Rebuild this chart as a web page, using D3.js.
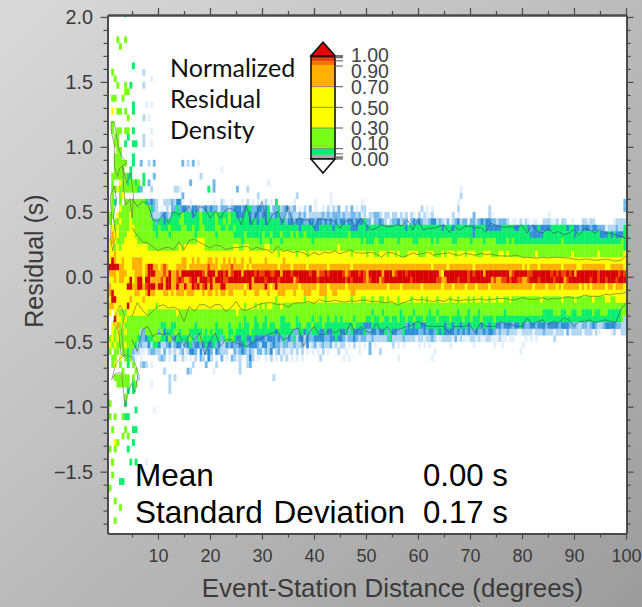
<!DOCTYPE html>
<html><head><meta charset="utf-8">
<style>html,body{margin:0;padding:0;background:#b8b8b8}svg{display:block}text{font-family:"Liberation Sans",Arial,sans-serif}</style>
<script src="https://cdn.jsdelivr.net/npm/d3@7"></script></head><body>
<div id="c"></div>
<script>
const xTicksMajor=[10,20,30,40,50,60,70,80,90,100];
const xTicksMinor=[5,15,25,35,45,55,65,75,85,95];
const yTicksMajor=[-1.5,-1,-0.5,0,0.5,1,1.5,2];
const yTicksMinor=[-1.9,-1.8,-1.7,-1.6,-1.4,-1.3,-1.2,-1.1,-0.9,-0.8,-0.7,-0.6,-0.4,-0.3,-0.2,-0.1,0.1,0.2,0.3,0.4,0.6,0.7,0.8,0.9,1.1,1.2,1.3,1.4,1.6,1.7,1.8,1.9];
const levelKeys=["a","b","c","d","e","f","y","o","p","r"];
const levelValues=[0.005,0.015,0.025,0.04,0.07,0.2,0.5,0.8,0.93,0.99];
const levelBreaks=[0.01,0.02,0.03,0.05,0.1,0.3,0.7,0.91,0.975];
const levelColors=["#e4f0fb","#b4d8f2","#70b8ea","#2f8fd8","#08ee6c","#78ff18","#ffff00","#ffb000","#ee4400","#d80000"];
const barBandEdges=[0,0.04,0.1,0.3,0.7,0.91,0.95,0.975,1];
const barBandColors=["#a9a9b4","#08ee6c","#78ff18","#ffff00","#ffb000","#ff7400","#f03000","#d80000"];
const barTicks=[1,0.99,0.98,0.95,0.9,0.7,0.5,0.3,0.1,0.05,0.02,0.01,0];
const barLabels=[1,0.9,0.7,0.5,0.3,0.1,0];
const legendTitle=["Normalized","Residual","Density"];
const statNames=["Mean","Standard Deviation"];
const statValues=["0.00 s","0.17 s"];
const rowTops=[0.6,0.55,0.5,0.45,0.4,0.35,0.3,0.25,0.2,0.15,0.1,0.05,0,-0.05,-0.1,-0.15,-0.2,-0.25,-0.3,-0.35,-0.4,-0.45,-0.5,-0.55,-0.6];
// one string per 0.05 s bin, one character per 0.5 degree bin, blocks of 5 degrees
const densityRows=[
"..fe.f.fff fffffecdcb ..bbbcbdda ..a....... .a..ba..a. ..a.b.a.a. ab.a.e.... ..a....... a.....a... ........a. .......... .......... .......... .....a.... .......... .......... .......... .......... .......... ..........",
"..f..yffff fffffffecb .a.b.ccecd dcbddcbcdc dccacccbcd ddcdeeccdd cdeaccebcd bbc.a.b.c. a..a.b.bac ..b.c.a.bb .......... .......... .b.a.a.... .....b.... .......b.. .......... .......... .......... .......... ..........",
".ff.yffffy fffffffcbb bcdcbeeeef eeedeefeee eefeeeefee dddeedcddc ddeccdeccb ccbbcbcabb bbbcbcbccc bcbbccbcab .bbccb.bb. bb.bab.ba. b.baab.... ...b.a.... .c.....ba. .......... .......... a......... .......... ..........",
".f.ffyfffy ffffffffec eedeeeeeff eeeeeefeee eefeefefee eeeeedeede edeeeeedec ddcdddccdd cddcdcdcdc ddcddcddde ccaccdcb.b ccdbcc.cdc dcbbcddbcb acabcdbcca ccbcdcddcc bcccb.aa.b .ba.aa..bb baab.bb..a ...bbabb.. .....abbbb",
"..yfyffffy yfffffffee feeefeeeef feefeeffee eeffeefeef eeeeeeeeee eeeeeeeeee eeeedeeeee ddeeeeedee eeeedddeee deeeeeeeee eeeeedeeee eeeeeeeeed eeedeeeeee edeeeedddd ddeeeeedde eedcddeddd deeeeeedee ddcdddcddc ccabbbcbbe",
"..oyyfffyy yffffffffe ffffefffff ffffefffff ffeffffffe eeefeeeeee feefeeefee efefeefeee eeeeeeeeee eeefeeeeee eeeeeeeeee eeeeeeeeee eeeeeeeeee eeeeeeeeee edeeeeeeee eeeeeeeeee eeedddddee eeeeeeeeee deeeeeeeee dddededdde",
".yoyfffyyy yyffffffff ffffffffff fffffyyyff ffffffffff ffeffffffe fffefffeff fffffffffe ffffffffff ffffffffef eeeffeefff ffefffffee fffffefeff fffeefffff effffeffff eeeefefeee eeeeeeeeee eeeeefeeee eeeeeeeeee eeeeeeeefe",
".yyfyfyyyy yyyyyyffff ffffffffyf yyyyyyyyff fffffffffy yffyyfffff fyyfffffff ffffffffff fffffffffy ffffffffff ffffffffff ffffffffff ffffffffff ffffffffff ffffffffff ffffffffff ffffffffff ffffffffff ffffffffff fffffffffe",
".yyoyyyyyy yyyyyyyyyy yyyyyyyyyy yyyyyyyyyy yyyyyyyyyy yyyyyyyyyy yyyyyyfyyy yyyfyyyfyy yyyyyyyyyy yyyyfyyyyy fyyffyyyfy yfyfffyyyy fffyyyfffy fyyyfyyyfy yyfffyyyff fyyfyfffff fffffyffff fffffffffy fffffffffy fffffffffy",
".yroyyoyyy ooooyyyyyy yyyyyyyyyo oyyoyoyyyo oyoyyoyoyo yyoyyoyyyy yoyyyyyyoy yyyyyyyyyy yyyyyyyyyy yyyyyyyyyy yyyyyyyyyy yyyyyyyyyy yyyyyyyyyy yyyyyyyyyy yyyyyyyyyy yyyyyyyyyy yyyyyyyyyy yyyyyyyyyy yyyyyyyyyy yyyyyyyyyy",
".rrrrooyyy ooooyorroo yopoyyyooo oyooooooop oooyoooopo oooyoyoooo ooooooyooo oyoooooyoo oooooyoooo ooooyooooo oooooooooo oooooooooo oooooyoooo oyoooooooo oyoooooooo oooooooooo yoyoooyooo oooooyoooo oyyooooooo ooyyoooooy",
".oooyoooyy yoooyorrro ooporoopor rrrrrrrpor rrorrpropr rrorrrrprp prrpprrorr rprrrrrrpr ropprprrrr rpoprrrprp orrrrrorrr oprrrprrrr rrrrrrrroy rrrrrrrrrp rprrrorrrr rrrrroprrr rrpprrrrrr rprprpprpr orrrrrrrrp rrrrrrrprp",
".yyoyooyyr yorryrrooo oporrooprp ooprrorrrp rorrrpprrr rrrrrrorrr rprrrrprrr rroprrrrrr rprrrrrrrr rrprprrrrp oprrroprrr rrrrrrrprr rrrrrrrppo orrrrprrrp rrrrrrrrop oopprprrpp ooprrrprrr rrprrroprr rrrrrrprrp rrprrrprrr",
".oyyyyyyrr oorroprrro rrorrooroo roorpropro rooorroooo oooyoroooo oroyoroooo ooooyooooo oyoooyoooo ooyooooooo ooooooooyo oooyoooooo oyoooooooy oooyooooyo ooyooooyoo oooooooooo ooooyooooy oooyoyoooo ooyoyoyooo ooyooyoooy",
".oryyyyyyy yooyyorooy yyooyoyooo yoooyyyoyo oyoyooyooy yyyoyyyooy yyoyyyoooy yyoyyyoooy yyoooyyooy yyyyooyyyy yyyyyyyyyy yyyyyyyyyy yyyyyyyyyy yyyyyyyyyy yyyyyyyyyy yyyyyyyyyy yyyyyyyyyy yyyyyyyyyy yyyyyyyyyy yyyyyyyyyy",
".yrryyyyyo yyyyoyyyyy yyyyyyyyyy yyyyyyyyyy yyyyyyyyyy yyyyyyyyyy yyyyyfyyyy yyyyyyfyyy yyyyfyyyyy yyyyfyyyff yyfyyffyfy yyfyyyyfyy yfyfyyyfyy yyfyyfyyyf yfyyfyyfyy fyyffyffff fffffffyff fffffyffff yffffffyff ffyyffyyyy",
".ooyyyyyry yyyyyyyyyf yyyyyyyyyy yyyyyyyyyy yyyyyyyyyy yyyfyyyfyf yfyyfffyff ffffffffff ffffffffff ffffffffff ffffffffff ffffffffff ffffffffff ffffffffff ffffffffff ffffffffff ffffffffff ffffffffff ffffffffff ffffffffff",
".y.yyfffyy yyyyyyffff fffffffyff ffffffffff ffffffffff yfffffffff ffffffffff ffffffffff ffffffffff ffffffffff ffefffefff fffeffffef ffffeffeff fffffefffe fffeffffff fffeffffff ffffffffee eefffeeffe effeeeefee fffeeeeeff",
"...ryyfyff ffffffffff ffffffffff ffffffffff ffffffffff fffefffeff fefffffeef fffefffffe ffeffeffef effffeffff eefeeffeef eefeefeefe eefeeeefee eefeeeefee feeefeeeef eeeeeeeeee eeeeeeeeee eeeeeeeeee eeeeeeeeee eeeeeeeefb",
"..yyofyfff ffffffffff feeffeefff ffffefffff ffeffffeff fefeeffeef eefeeffeee effeeffeef eeefeeeeee eeeeefeeed ddeeeeeeee eeeeecdede eddeeeeeee deedeedeed eeeedeedee ddcdddcdde dccddcdddc ddddcdddcc cbbccbcdcb bcddddccbb",
"o.yfyffyff fffbcfffff cfdeeeffef ffeeeeefef efeeeffeef eeeeefeeee eeeeedeeee eecceedece eeddeddeee ddecedddde ccddcddece ddcceddddd ccdcddcede ddddcdcdcd ccdccdcddc bcbbcbbbaa bbbbabbbcb bbabbb.cab bbb.bbb.ba ....ab..bb",
".fyfyfffff ffeccdeeff feedfcdeee eefecefeee eeeecefefe ddeeddeddd dcdddcdcec dcebddbdcc ddddccdded dcbccdcbcc bbcbbbbbce bbbbcbbbba bbabbcbaab bbbacabaaa bbabaabbaa abaa.aa... .a.a.a.... ..b....... .......... ..........",
".yfyfffyff febcbbdbee dbbcdbcddb cdecddcded decdbbdcdc cddecdddcb ddbcdccbcc bbcbbcadab cabcbbcaba bb.a.b.a.a .c.a...... b.a.a..... ..a.a..... ..a....... .a.......a .......... .......... .......... .......... ..........",
".f.ff.ffef cbbaa.bccb b.c.bab.bc abddc.dbcd c.dcbbb..c bcdcbcb.cc acbd.bcaba ab.b.b.a.a .a.b.a...b ..a....a.. .c...b.... .......... .......... .......... .......... .......... .......... .......... .......... ..........",
"..ff.y.fef ba.a...... b.b.a.ca.b a.a.b.cb.d b.a.c.a.cb aba.bdb.a. .a.b.a.b.b .a.a.a.... ..b....... .a.a...... .......... ..a....... .......... .......... .......... .......... .......... .......... .......... .........."
];
// isolated bins outside the main band: distance, residual, level key
const sparseCells=[[3.8,2.0,"e"],[2.2,1.82,"f"],[2.7,1.76,"f"],[3.8,1.82,"f"],[5.2,1.62,"e"],[1.3,1.57,"f"],[1.7,1.52,"f"],[2.3,1.46,"f"],[3.8,1.46,"f"],[4.6,1.47,"e"],[3.5,1.41,"f"],[4,1.41,"f"],[1.2,1.37,"f"],[1.7,1.37,"f"],[3.2,1.37,"f"],[5.2,1.31,"e"],[5.2,1.26,"e"],[1.3,1.27,"y"],[2.3,1.27,"f"],[2.7,1.27,"f"],[3.8,1.27,"f"],[4.2,1.21,"f"],[2.3,1.15,"f"],[3.7,1.15,"f"],[5.2,1.15,"e"],[2.7,1.1,"f"],[4.2,1.1,"f"],[4.4,1.05,"e"],[3.8,1,"e"],[5.1,1,"e"],[5.7,1,"e"],[5.2,0.92,"e"],[5,0.87,"e"],[1.2,1.17,"f"],[1.2,1.12,"f"],[1.7,1.07,"f"],[1.7,1.02,"f"],[2.2,1.07,"f"],[2.2,1.02,"f"],[2.2,0.97,"f"],[2.7,0.97,"f"],[1.7,0.92,"f"],[2.2,0.92,"f"],[2.7,0.92,"f"],[1.7,0.87,"f"],[2.2,0.87,"f"],[2.7,0.87,"f"],[3.2,0.87,"f"],[3.7,0.87,"f"],[2.2,0.82,"f"],[2.7,0.82,"f"],[1,0.72,"f"],[2.2,0.76,"f"],[4.2,0.77,"e"],[4.7,0.77,"e"],[4.2,0.72,"e"],[4.7,0.72,"f"],[3.7,0.67,"f"],[4.2,0.67,"f"],[4.7,0.67,"f"],[2.2,0.67,"y"],[1.7,0.67,"f"],[2.7,0.72,"y"],[5.7,0.72,"e"],[6.2,0.72,"f"],[5.7,0.67,"f"],[6.2,0.67,"e"],[6.7,0.67,"c"],[7.2,0.77,"e"],[7.2,0.72,"e"],[8.2,0.72,"c"],[8.7,0.67,"b"],[9,0.77,"c"],[18,0.77,"b"],[22.2,0.82,"a"],[16,0.72,"c"],[13.2,0.67,"b"],[13.7,0.67,"b"],[14.2,0.67,"a"],[14.5,0.62,"c"],[19.5,0.67,"e"],[20.6,0.72,"c"],[20.6,0.67,"c"],[16.7,0.87,"c"],[7.2,1.57,"b"],[7.2,1.47,"b"],[8.7,1.52,"a"],[7.7,1.32,"a"],[8.7,1.32,"a"],[7.2,1.22,"b"],[8.2,1.22,"a"],[8.7,1.15,"a"],[7.2,1.08,"b"],[7.2,1.03,"b"],[8.7,1.02,"a"],[6.7,0.87,"c"],[8.2,0.87,"b"],[9,0.87,"c"],[14.7,0.87,"c"],[15.7,0.87,"b"],[17.7,0.87,"a"],[31.2,0.72,"a"],[27.4,0.67,"b"],[25.4,0.67,"c"],[29.3,0.62,"b"],[36.7,0.62,"b"],[43,0.62,"a"],[68,0.62,"b"],[68,0.67,"a"],[99.6,0.52,"c"],[99.6,0.57,"c"],
[1.2,0.77,"f"],[1.7,0.77,"f"],[2.7,0.77,"f"],[3.2,0.77,"f"],[3.7,0.77,"f"],[3.2,0.72,"f"],[3.7,0.72,"f"],[5.2,0.72,"f"],[1.2,0.67,"f"],[2.7,0.67,"f"],[3.2,0.67,"f"],[5.2,0.67,"f"],[1.2,0.62,"f"],[2.7,0.62,"f"],[3.2,0.62,"y"],[1.7,0.82,"f"],[3.2,0.82,"f"],[4.7,0.82,"e"],
[1.7,-0.68,"y"],[6.5,-0.67,"b"],[7.2,-0.67,"c"],[7.8,-0.68,"b"],[8.5,-0.67,"a"],[11.3,-0.73,"b"],[8.5,-0.83,"a"],[12.3,-0.8,"b"],[12.3,-0.85,"b"],[12.3,-0.9,"b"],[13.1,-0.78,"b"],[9.4,-1.03,"a"],[4.3,-0.69,"e"],[6.2,-0.78,"b"],[1.5,-0.77,"f"],[2,-0.77,"f"],[2.5,-0.77,"f"],[3,-0.77,"f"],[3.5,-0.77,"f"],[4,-0.77,"f"],[5,-0.77,"f"],[2,-0.82,"f"],[2.5,-0.82,"f"],[3,-0.82,"f"],[3.5,-0.82,"f"],[4,-0.82,"f"],[5,-0.82,"e"],[5.5,-0.82,"f"],[3.6,-0.92,"f"],[3.6,-0.97,"e"],[4.1,-0.87,"e"],[5.2,-0.87,"e"],[1,-0.7,"f"],[2.5,-0.7,"f"],[3,-0.72,"f"],[5,-0.7,"f"],[5.6,-0.72,"f"],[0.8,-0.98,"f"],[5.6,-1.03,"e"],[0.8,-1.07,"f"],[1.7,-1.07,"f"],[3.1,-1.07,"f"],[3.6,-1.07,"e"],[4.2,-1.07,"e"],[1.2,-1.18,"f"],[3.7,-1.18,"f"],[4.2,-1.23,"f"],[5,-1.18,"e"],[5.5,-1.18,"e"],[1.7,-1.28,"y"],[2.4,-1.28,"f"],[3.3,-1.23,"f"],[5.2,-1.28,"e"],[0.8,-1.33,"f"],[1.7,-1.33,"f"],[4.4,-1.33,"e"],[1,-1.42,"f"],[1.4,-1.42,"f"],[4.9,-1.42,"e"],[5.7,-1.42,"e"],[1.2,-1.53,"f"],[2.5,-1.58,"e"],[3,-1.58,"e"],[0.8,-1.62,"f"],[1.9,-1.73,"f"],[2.9,-1.77,"f"],[1.8,-1.88,"f"],[7.7,-1.43,"a"],
[10.8,-0.62,"c"],[11,-0.73,"b"],[15.5,-0.73,"c"],[16,-0.73,"b"],[20.6,-0.73,"a"],[16.5,-0.68,"b"],[19,-0.68,"c"],[21,-0.68,"b"],[32.2,-0.78,"b"],[25.5,-0.73,"b"],[27,-0.68,"b"],[27.5,-0.68,"c"],[25.5,-0.68,"b"],[60.1,-0.52,"a"],[62.5,-0.62,"a"],[63,-0.58,"a"],[80,-0.52,"a"],[79.5,-0.57,"a"],[76,-0.52,"a"],[76,-0.47,"a"]];
const contourDistance=d3.range(5,101);
const yellowTop=[.38,.32,.27,.26,.233,.2,.22,.228,.208,.27,.208,.28,.29,.264,.246,.22,.246,.238,.21,.22,.226,.228,.238,.208,.228,.213,.208,.182,.238,.195,.203,.187,.195,.182,.162,.187,.169,.19,.182,.2,.177,.192,.208,.187,.182,.182,.19,.175,.15,.185,.185,.17,.15,.165,.185,.17,.18,.19,.165,.175,.18,.185,.17,.165,.18,.175,.165,.18,.17,.175,.165,.16,.16,.16,.169,.15,.15,.146,.144,.15,.144,.15,.15,.146,.144,.136,.13,.136,.136,.126,.13,.136,.13,.12,.126,.16];
const yellowBottom=[-.305,-.2,-.254,-.3,-.267,-.228,-.215,-.241,-.233,-.254,-.344,-.228,-.267,-.215,-.215,-.241,-.215,-.215,-.267,-.241,-.19,-.25,-.26,-.24,-.22,-.205,-.2,-.2,-.215,-.21,-.235,-.205,-.2,-.2,-.19,-.205,-.175,-.19,-.19,-.18,-.19,-.195,-.185,-.19,-.18,-.18,-.19,-.19,-.195,-.2,-.19,-.22,-.2,-.19,-.17,-.18,-.175,-.185,-.19,-.18,-.19,-.17,-.18,-.185,-.175,-.18,-.175,-.17,-.18,-.175,-.17,-.165,-.17,-.18,-.175,-.16,-.17,-.175,-.17,-.16,-.175,-.165,-.17,-.16,-.155,-.165,-.16,-.14,-.15,-.15,-.15,-.135,-.14,-.13,-.13,-.12];
const greenTop=[.6,.541,.579,.567,.438,.426,.477,.413,.503,.477,.503,.541,.464,.541,.528,.451,.503,.451,.515,.528,.503,.4,.554,.4,.49,.579,.4,.477,.503,.413,.541,.4,.451,.438,.438,.374,.451,.438,.438,.426,.374,.426,.438,.387,.451,.4,.36,.374,.4,.387,.387,.4,.392,.438,.36,.438,.36,.374,.374,.387,.4,.342,.387,.36,.387,.392,.374,.382,.342,.413,.392,.382,.382,.387,.374,.4,.336,.4,.349,.336,.374,.336,.349,.323,.336,.362,.323,.374,.362,.336,.362,.336,.336,.323,.31,.297];
const greenBottom=[-.485,-.574,-.408,-.382,-.459,-.433,-.446,-.433,-.485,-.433,-.536,-.446,-.485,-.433,-.6,-.497,-.433,-.536,-.485,-.485,-.51,-.523,-.536,-.51,-.485,-.472,-.446,-.433,-.42,-.485,-.472,-.408,-.395,-.536,-.433,-.382,-.446,-.446,-.408,-.433,-.408,-.446,-.356,-.433,-.382,-.42,-.433,-.356,-.433,-.382,-.433,-.408,-.395,-.382,-.369,-.344,-.369,-.382,-.382,-.382,-.382,-.433,-.382,-.382,-.382,-.369,-.433,-.356,-.382,-.382,-.382,-.344,-.369,-.369,-.382,-.382,-.318,-.369,-.344,-.331,-.369,-.344,-.356,-.318,-.331,-.382,-.344,-.344,-.331,-.352,-.344,-.331,-.344,-.352,-.254,-.2];
// closed contour loops near the origin: [distance, residual]
const nearLoops=[
[[.96,1.19],[1.6,1.19],[2.37,1],[3,.925],[4,.875],[2.7,.84],[2.2,.77],[1.7,.84],[1.6,.9],[1.7,1],[1,1.12],[.96,1.19]],
[[1.1,-.79],[2,-.74],[3,-.74],[3.65,-1],[4.3,-.89],[4.9,-.82],[5.6,-.89],[6.2,-.74],[5.2,-.62],[3.5,-.6],[2,-.66],[1.1,-.79]],
[[.8,.62],[1.6,.7],[2,.6],[1.4,.45],[1.9,.32],[1.3,.2],[.8,.3],[1.1,.45],[.8,.62]],
[[1.4,-.35],[2.4,-.42],[2.9,-.6],[3.5,-.62],[3,-.42],[3.6,-.3],[2.7,-.22],[2,-.28],[1.4,-.35]],
[[3.2,.85],[4,.72],[4.7,.8],[5.3,.62],[5,.45],[4.6,.6],[3.8,.55],[3.4,.68],[3.2,.85]],
[[.3,-.82],[.55,-.9],[.55,-1.05],[.3,-1.1]]
];

const W=642,H=607;
const x=d3.scaleLinear().domain([0.29,100]).range([107.5,626]);
const y=d3.scaleLinear().domain([-1.976,2.015]).range([533.5,15]);
const level=d3.scaleThreshold().domain(levelBreaks).range(levelColors);
const keyValue=new Map(levelKeys.map((k,i)=>[k,levelValues[i]]));
const binW=0.5,binH=0.05;

const svg=d3.select("#c").append("svg").attr("width",W).attr("height",H);
const defs=svg.append("defs");
const g=defs.append("linearGradient").attr("id","bg").attr("x1",0).attr("y1",0).attr("x2",1).attr("y2",1);
g.append("stop").attr("offset",0).attr("stop-color","#dadada");
g.append("stop").attr("offset",1).attr("stop-color","#9c9c9c");
defs.append("clipPath").attr("id","plot").append("rect").attr("x",x.range()[0]).attr("y",y.range()[1]).attr("width",x.range()[1]-x.range()[0]).attr("height",y.range()[0]-y.range()[1]);
defs.append("filter").attr("id","soft").attr("x",0).attr("y",0).attr("width",1).attr("height",1).append("feGaussianBlur").attr("stdDeviation",0.6);
svg.append("rect").attr("width",W).attr("height",H).attr("fill","url(#bg)");
svg.append("rect").attr("x",x.range()[0]).attr("y",y.range()[1]).attr("width",x.range()[1]-x.range()[0]).attr("height",y.range()[0]-y.range()[1]).attr("fill","#fff");

const cells=[];
densityRows.forEach((row,i)=>{
  Array.from(row.replace(/ /g,"")).forEach((ch,j)=>{
    if(ch!==".") cells.push({d0:j*binW,r1:rowTops[i],v:keyValue.get(ch)});
  });
});
sparseCells.forEach(([d,r,ch])=>{
  cells.push({d0:Math.floor(d/binW)*binW,r1:(Math.floor(r/binH)+1)*binH,v:keyValue.get(ch)});
});
const plot=svg.append("g").attr("clip-path","url(#plot)");
plot.append("g").attr("filter","url(#soft)").selectAll("rect").data(cells).join("rect")
  .attr("x",d=>x(d.d0)).attr("y",d=>y(d.r1))
  .attr("width",d=>x(d.d0+binW)-x(d.d0)+0.3).attr("height",d=>y(d.r1-binH)-y(d.r1)+0.3)
  .attr("fill",d=>level(d.v));

const line=d3.line().x(p=>x(p[0])).y(p=>y(p[1]));
[yellowTop,yellowBottom].forEach(a=>plot.append("path").attr("d",line(a.map((v,i)=>[contourDistance[i],v]))).attr("fill","none").attr("stroke","#6a7a20").attr("stroke-width",.9).attr("stroke-opacity",.8));
[greenTop,greenBottom].forEach(a=>plot.append("path").attr("d",line(a.map((v,i)=>[contourDistance[i],v]))).attr("fill","none").attr("stroke","#34506a").attr("stroke-width",.9).attr("stroke-opacity",.7));
nearLoops.forEach(l=>plot.append("path").attr("d",line(l)).attr("fill","none").attr("stroke","#6a6a5a").attr("stroke-width",.9).attr("stroke-opacity",.7));

// axes
const axisColor="#4a4a4a";
function styled(sel,size){sel.selectAll("path").attr("stroke",axisColor).attr("stroke-width",1.8);
  sel.selectAll("line").attr("stroke",axisColor).attr("stroke-width",1.2);
  sel.selectAll("text").attr("fill","#3a3a3a").attr("font-size",size);}
const blank=()=>"";
const pl=x.range()[0],pr=x.range()[1]+0.6,pt=y.range()[1],pb=y.range()[0];
styled(svg.append("g").attr("transform",`translate(${pl},0)`).call(d3.axisLeft(y).tickValues(yTicksMajor).tickSize(7).tickSizeOuter(0).tickPadding(7.5).tickFormat(d3.format(".1f"))),19.8);
styled(svg.append("g").attr("transform",`translate(${pl},0)`).call(d3.axisLeft(y).tickValues(yTicksMinor).tickSize(4).tickSizeOuter(0).tickFormat(blank)),10);
styled(svg.append("g").attr("transform",`translate(${pr},0)`).call(d3.axisRight(y).tickValues(yTicksMajor).tickSize(7).tickSizeOuter(0).tickFormat(blank)),10);
styled(svg.append("g").attr("transform",`translate(${pr},0)`).call(d3.axisRight(y).tickValues(yTicksMinor).tickSize(4).tickSizeOuter(0).tickFormat(blank)),10);
styled(svg.append("g").attr("transform",`translate(0,${pb})`).call(d3.axisBottom(x).tickValues(xTicksMajor).tickSize(6).tickSizeOuter(0).tickPadding(10).tickFormat(d3.format("d"))),18);
styled(svg.append("g").attr("transform",`translate(0,${pb})`).call(d3.axisBottom(x).tickValues(xTicksMinor).tickSize(4).tickSizeOuter(0).tickFormat(blank)),10);
styled(svg.append("g").attr("transform",`translate(0,${pt})`).call(d3.axisTop(x).tickValues(xTicksMajor).tickSize(7).tickSizeOuter(0).tickFormat(blank)),10);
styled(svg.append("g").attr("transform",`translate(0,${pt})`).call(d3.axisTop(x).tickValues(xTicksMinor).tickSize(4).tickSizeOuter(0).tickFormat(blank)),10);

svg.append("text").attr("x",392.5).attr("y",597).attr("text-anchor","middle").attr("font-size",25.9).attr("fill","#3a3a3a").text("Event-Station Distance (degrees)");
svg.append("text").attr("transform","translate(43,261) rotate(-90)").attr("text-anchor","middle").attr("font-size",25).attr("fill","#3a3a3a").text("Residual (s)");

// stats
statNames.forEach((t,i)=>svg.append("text").attr("x",135).attr("y",[486,523][i]).attr("font-size",31.5).attr("word-spacing",2).attr("fill","#000").text(t));
statValues.forEach((t,i)=>svg.append("text").attr("x",423).attr("y",[486,523][i]).attr("font-size",31.2).attr("fill","#000").text(t));

// legend title
legendTitle.forEach((t,i)=>svg.append("text").attr("x",170).attr("y",77+i*31).attr("font-size",25).attr("fill","#111").style("font-family","Lato").text(t));

// colour bar
const by=d3.scaleLinear().domain([0,1]).range([159,55.7]);
const bx0=311,bx1=335;
const bar=svg.append("g");
barBandColors.forEach((c,i)=>bar.append("rect").attr("x",bx0).attr("width",bx1-bx0).attr("y",by(barBandEdges[i+1])).attr("height",by(barBandEdges[i])-by(barBandEdges[i+1])).attr("fill",c));
[0.7,0.5,0.3,0.1].forEach(v=>bar.append("line").attr("x1",bx0).attr("x2",bx1).attr("y1",by(v)).attr("y2",by(v)).attr("stroke","#777").attr("stroke-width",.8));
bar.append("rect").attr("x",bx0).attr("y",by(1)).attr("width",bx1-bx0).attr("height",by(0)-by(1)).attr("fill","none").attr("stroke","#111").attr("stroke-width",1.6);
bar.append("path").attr("d",`M${bx0},${by(1)}L${(bx0+bx1)/2},${by(1)-13.5}L${bx1},${by(1)}Z`).attr("fill","#e80000").attr("stroke","#111").attr("stroke-width",1.6);
bar.append("path").attr("d",`M${bx0},${by(0)}L${(bx0+bx1)/2},${by(0)+14}L${bx1},${by(0)}Z`).attr("fill","#fff").attr("stroke","#111").attr("stroke-width",1.6);
barTicks.forEach(v=>bar.append("line").attr("x1",bx1).attr("x2",bx1+8).attr("y1",by(v)).attr("y2",by(v)).attr("stroke","#555").attr("stroke-width",1));
const labelShift=new Map([[1,-1],[0.9,4.5],[0.7,0],[0.5,1],[0.3,0],[0.1,-5.5],[0,0]]);
barLabels.forEach(v=>bar.append("text").attr("x",351).attr("y",by(v)+labelShift.get(v)).attr("dy","0.36em").attr("font-size",19.5).attr("fill","#444").text(d3.format(".2f")(v)));
</script>
</body></html>
